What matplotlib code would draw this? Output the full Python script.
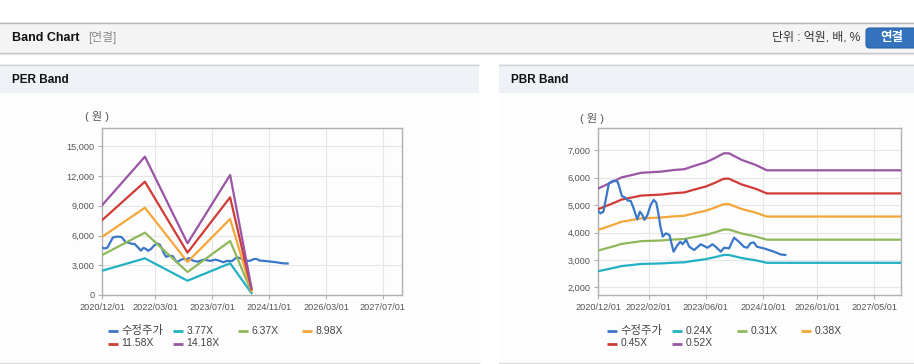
import matplotlib
matplotlib.use("Agg")
import matplotlib.pyplot as plt
import matplotlib.dates as mdates
from matplotlib.patches import Rectangle, FancyBboxPatch
from matplotlib.lines import Line2D
from matplotlib.ticker import FuncFormatter, MultipleLocator
from matplotlib.transforms import Affine2D
import pandas as pd

W, H = 914, 364

# adjusted share price (수정주가), shared by both charts
price_dates = ['2020-12-01', '2020-12-19', '2021-01-13', '2021-02-10', '2021-03-01', '2021-04-07',
               '2021-05-13', '2021-05-28', '2021-06-19', '2021-07-16', '2021-08-10', '2021-09-01',
               '2021-09-22', '2021-10-28', '2021-11-19', '2021-12-10', '2021-12-28', '2022-01-22',
               '2022-02-18', '2022-03-16', '2022-04-07', '2022-04-25', '2022-05-13', '2022-06-01',
               '2022-06-28', '2022-07-28', '2022-09-01', '2022-10-01', '2022-10-28', '2022-11-16',
               '2022-12-16', '2023-01-13', '2023-02-23', '2023-04-19', '2023-06-16', '2023-07-28',
               '2023-08-25', '2023-10-07', '2023-11-04', '2023-12-16', '2024-01-28', '2024-03-10',
               '2024-04-19', '2024-05-19', '2024-06-16', '2024-07-13', '2024-08-10', '2024-10-07',
               '2024-11-19', '2025-01-13', '2025-02-25', '2025-04-07']
price = [4780, 4700, 4760, 5370, 5800, 5890,
         5860, 5670, 5330, 5280, 5160, 5160,
         4940, 4480, 4760, 4640, 4460, 4640,
         5000, 5190, 5090, 4700, 4210, 3850,
         3970, 3910, 3300, 3520, 3660, 3570,
         3730, 3480, 3360, 3570, 3445, 3570,
         3480, 3300, 3445, 3420, 3810, 3660,
         3480, 3445, 3610, 3640, 3480, 3420,
         3360, 3280, 3200, 3180]

# PER band
per_dates = ['2020-12-01', '2021-12-01', '2022-12-01', '2023-12-01', '2024-06-01']
per_labels = ['3.77X', '6.37X', '8.98X', '11.58X', '14.18X']
per_377 = [2450, 3700, 1440, 3200, 190]
per_637 = [4040, 6290, 2320, 5450, 320]
per_898 = [5880, 8810, 3330, 7670, 450]
per_1158 = [7570, 11430, 4270, 9860, 580]
per_1418 = [9080, 13960, 5220, 12110, 710]
per_ticks = ['2020-12-01', '2022-03-01', '2023-07-01', '2024-11-01', '2026-03-01', '2027-07-01']

# PBR band
pbr_dates = ['2020-12-01', '2021-02-01', '2021-05-01', '2021-06-15', '2021-09-15', '2021-12-01',
             '2022-05-15', '2022-09-01', '2022-12-01', '2023-03-01', '2023-06-01', '2023-08-15',
             '2023-11-01', '2023-12-15', '2024-04-01', '2024-08-01', '2024-11-01', '2027-12-15']
pbr_labels = ['0.24X', '0.31X', '0.38X', '0.45X', '0.52X']
pbr_024 = [2589, 2645, 2728, 2774, 2815, 2852, 2871, 2898, 2912, 2972, 3028, 3097, 3180, 3180, 3069, 2982, 2894, 2894]
pbr_031 = [3344, 3416, 3523, 3583, 3637, 3684, 3708, 3744, 3762, 3839, 3911, 4000, 4108, 4108, 3964, 3851, 3738, 3738]
pbr_038 = [4099, 4187, 4319, 4392, 4458, 4516, 4546, 4589, 4611, 4706, 4794, 4904, 5035, 5035, 4859, 4721, 4582, 4582]
pbr_045 = [4855, 4959, 5114, 5201, 5279, 5348, 5383, 5435, 5461, 5573, 5677, 5807, 5963, 5963, 5755, 5590, 5426, 5426]
pbr_052 = [5610, 5730, 5910, 6010, 6100, 6180, 6220, 6280, 6310, 6440, 6560, 6710, 6890, 6890, 6650, 6460, 6270, 6270]
pbr_ticks = ['2020-12-01', '2022-02-01', '2023-06-01', '2024-10-01', '2026-01-01', '2027-05-01']

x_start, x_end = '2020-12-01', '2027-12-15'

price_color = '#3b77c9'
band_colors = ['#22b1c2', '#8fb85a', '#f5a638', '#d03b36', '#9a55a5']

plt.rcParams['font.family'] = ['Liberation Sans', 'Noto Sans CJK KR', 'DejaVu Sans']

fig = plt.figure(figsize=(W / 100, H / 100), dpi=100)
fig.patch.set_facecolor('white')
# pixel coordinates, origin top-left
T = Affine2D().scale(1 / W, -1 / H).translate(0, 1) + fig.transFigure


def rect(x, y, w, h, color, z=0):
    fig.add_artist(Rectangle((x, y), w, h, transform=T, facecolor=color, edgecolor='none', zorder=z))


def hline(x0, x1, y, color, lw=1.0, z=1):
    fig.add_artist(Line2D([x0, x1], [y, y], transform=T, color=color, lw=lw, zorder=z))


# page header
rect(0, 22, W, 31, '#f4f4f4')
hline(0, W, 22.5, '#b4b4b4')
hline(0, W, 53, '#c4c4c4')
hline(0, W, 54, '#e2e2e2')
fig.text(12, 38, 'Band Chart', transform=T, fontsize=9, fontweight='bold', color='#111', va='center')
fig.text(88, 38, '[연결]', transform=T, fontsize=8.5, color='#8a8a8a', va='center')
fig.text(860, 38, '단위 : 억원, 배, %', transform=T, fontsize=8.6, color='#333', va='center', ha='right')
fig.add_artist(FancyBboxPatch((866, 28), 54, 20, boxstyle='round,pad=0,rounding_size=3.5',
                              transform=T, facecolor='#3373bd', edgecolor='#2a64a8', lw=0.8, zorder=2))
fig.text(892, 38.5, '연결', transform=T, fontsize=9, fontweight='bold', color='white',
         va='center', ha='center', zorder=3)

# panels
for px0, px1, title in [(0, 479, 'PER Band'), (499, W, 'PBR Band')]:
    rect(px0, 64, px1 - px0, 29, '#eef2f7')
    rect(px0, 93, px1 - px0, 269, '#fdfdfd')
    hline(px0, px1, 64.5, '#d4d4d4')
    hline(px0, px1, 362.5, '#dcdcdc')
    fig.text(px0 + 12, 80, title, transform=T, fontsize=8.5, fontweight='bold', color='#111', va='center')


def setup_axes(rect_px, ylim, ystep, ticks):
    x0, y0, x1, y1 = rect_px
    ax = fig.add_axes([x0 / W, 1 - y1 / H, (x1 - x0) / W, (y1 - y0) / H])
    ax.set_facecolor('#fdfdfd')
    ax.set_xlim(pd.Timestamp(x_start), pd.Timestamp(x_end))
    ax.set_ylim(*ylim)
    ax.set_xticks(pd.to_datetime(ticks))
    ax.xaxis.set_major_formatter(mdates.DateFormatter('%Y/%m/%d'))
    ax.yaxis.set_major_locator(MultipleLocator(ystep))
    ax.yaxis.set_major_formatter(FuncFormatter(lambda v, p: f'{v:,.0f}'))
    ax.grid(color='#e6e6e6', lw=0.8)
    ax.set_axisbelow(True)
    for s in ax.spines.values():
        s.set_color('#b0b0b0')
        s.set_linewidth(1.0)
    ax.tick_params(labelsize=6.6, labelcolor='#555', color='#b0b0b0', length=3, width=0.8, pad=2.5)
    return ax


def legend(x0, names, colors):
    cols = [0, 65, 130, 194]
    for i, (name, c) in enumerate(zip(names, colors)):
        lx = x0 + cols[i % 4]
        ly = 330.5 if i < 4 else 343.5
        fig.add_artist(Line2D([lx, lx + 10.5], [ly, ly], transform=T, color=c, lw=2, solid_capstyle='butt'))
        size = 8.2 if i == 0 else 7.5
        fig.text(lx + 13.5, ly, name, transform=T, fontsize=size, color='#444', va='center')


# PER chart
ax1 = setup_axes((102.3, 128.3, 402.3, 295), (0, 16820), 3000, per_ticks)
ax1.plot(pd.to_datetime(price_dates), price, color=price_color, lw=1.6, zorder=3)
for vals, c in zip([per_377, per_637, per_898, per_1158, per_1418], band_colors):
    ax1.plot(pd.to_datetime(per_dates), vals, color=c, lw=1.6, zorder=4)
fig.text(97, 117, '( 원 )', transform=T, fontsize=8, color='#555', va='center', ha='center')
legend(107.7, ['수정주가'] + per_labels, [price_color] + band_colors)

# PBR chart
ax2 = setup_axes((598.3, 128.3, 901, 295), (1719, 7803), 1000, pbr_ticks)
for vals, c in zip([pbr_024, pbr_031, pbr_038, pbr_045, pbr_052], band_colors):
    ax2.plot(pd.to_datetime(pbr_dates), vals, color=c, lw=1.6, zorder=3)
ax2.plot(pd.to_datetime(price_dates), price, color=price_color, lw=1.6, zorder=4)
fig.text(592, 118, '( 원 )', transform=T, fontsize=8, color='#555', va='center', ha='center')
legend(606.7, ['수정주가'] + pbr_labels, [price_color] + band_colors)

fig.savefig('out.png', dpi=100)
